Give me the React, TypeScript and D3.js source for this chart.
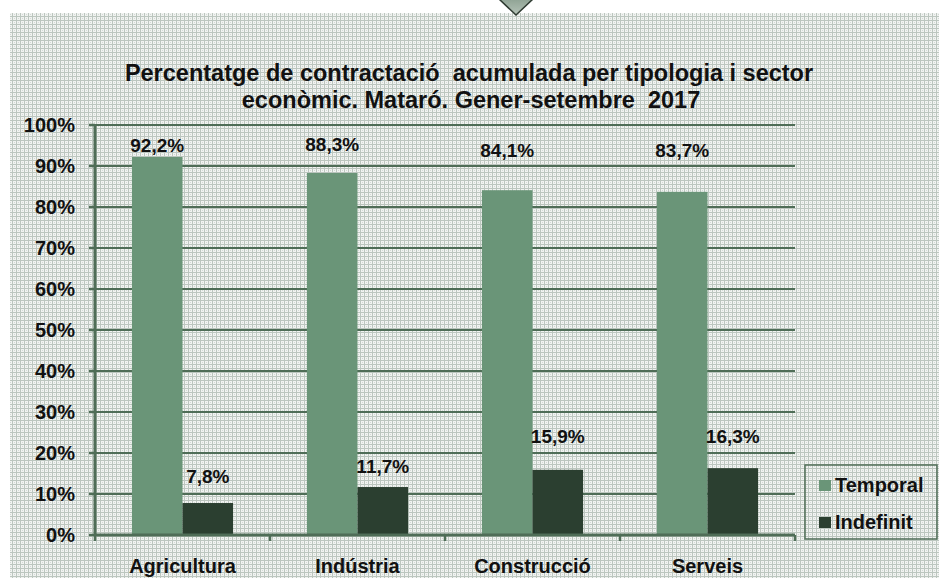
import * as d3 from "d3";

const CATEGORIES = ["Agricultura", "Indústria", "Construcció", "Serveis"];
const SERIES = ["Temporal", "Indefinit"];
const TEMPORAL = [92.2, 88.3, 84.1, 83.7];
const INDEFINIT = [7.8, 11.7, 15.9, 16.3];
const LABELS_TEMPORAL = ["92,2%", "88,3%", "84,1%", "83,7%"];
const LABELS_INDEFINIT = ["7,8%", "11,7%", "15,9%", "16,3%"];
const Y_TICKS = [0, 10, 20, 30, 40, 50, 60, 70, 80, 90, 100];

// where the value labels sit (in % units), they were placed by hand in the original
const LABEL_AT_TEMPORAL = [93.4, 93.7, 92.2, 92.2];
const LABEL_AT_INDEFINIT = [12.7, 15.1, 22.4, 22.4];

const W = 939;
const H = 578;
const PLOT = { left: 95, right: 795, top: 125, bottom: 535 };
const COLORS = { Temporal: "#6a9578", Indefinit: "#2b3f30" };
const AXIS = "#4f6d57";
const FONT = "'Liberation Sans', Arial, sans-serif";

export default function App() {
  const y = d3.scaleLinear().domain([0, 100]).range([PLOT.bottom, PLOT.top]);
  const x0 = d3.scaleBand().domain(CATEGORIES).range([PLOT.left, PLOT.right]);
  const x1 = d3
    .scaleBand()
    .domain(SERIES)
    .range([0, x0.bandwidth()])
    .paddingOuter(0.73);

  const rows = CATEGORIES.map((c, i) => ({
    cat: c,
    values: [
      { key: "Temporal", v: TEMPORAL[i], label: LABELS_TEMPORAL[i], at: LABEL_AT_TEMPORAL[i] },
      { key: "Indefinit", v: INDEFINIT[i], label: LABELS_INDEFINIT[i], at: LABEL_AT_INDEFINIT[i] },
    ],
  }));

  const ticksX = [...CATEGORIES.map((c) => x0(c)!), PLOT.right];

  return (
    <svg
      width={W}
      height={H}
      style={{ position: "absolute", left: 0, top: 0, background: "#fff" }}
      fontFamily={FONT}
    >
      <defs>
        <pattern id="bg" width={4} height={4} patternUnits="userSpaceOnUse">
          <rect width={4} height={4} fill="#f1f3f1" />
          <rect x={0} y={0} width={1} height={4} fill="#bcc6bf" />
          <rect x={0} y={0} width={4} height={1} fill="#bcc6bf" />
          <rect x={2} y={2} width={1} height={1} fill="#d3dad5" />
        </pattern>
        <linearGradient id="chev" x1="0" y1="0" x2="0" y2="1">
          <stop offset="0" stopColor="#8fa394" />
          <stop offset="1" stopColor="#b5c3b8" />
        </linearGradient>
      </defs>

      <rect x={10} y={13} width={W - 10} height={H - 13} fill="url(#bg)" />

      {/* little arrow at the top */}
      <polygon
        points="499,-1 516,15 533,-1"
        fill="url(#chev)"
        stroke="#2e3a31"
        strokeWidth={1.5}
      />

      {/* title */}
      <text
        x={469}
        y={81}
        textAnchor="middle"
        fontSize={23.5}
        fontWeight="bold"
        fill="#111"
        style={{ whiteSpace: "pre" }}
      >
        Percentatge de contractació  acumulada per tipologia i sector
      </text>
      <text
        x={471}
        y={108}
        textAnchor="middle"
        fontSize={23.5}
        fontWeight="bold"
        fill="#111"
        style={{ whiteSpace: "pre" }}
      >
        econòmic. Mataró. Gener-setembre  2017
      </text>

      {/* gridlines + y axis */}
      {Y_TICKS.map((t) => (
        <g key={t}>
          {t > 0 && (
            <line
              x1={PLOT.left}
              x2={PLOT.right}
              y1={y(t)}
              y2={y(t)}
              stroke={AXIS}
              strokeWidth={2}
            />
          )}
          <line x1={PLOT.left - 6} x2={PLOT.left} y1={y(t)} y2={y(t)} stroke={AXIS} strokeWidth={2.5} />
          <text
            x={75}
            y={y(t)}
            dy="0.36em"
            textAnchor="end"
            fontSize={20}
            fontWeight="bold"
            fill="#111"
          >
            {t}%
          </text>
        </g>
      ))}

      {/* bars */}
      {rows.map((r) => (
        <g key={r.cat} transform={`translate(${x0(r.cat)},0)`}>
          {r.values.map((d) => (
            <rect
              key={d.key}
              x={x1(d.key)}
              y={y(d.v)}
              width={x1.bandwidth()}
              height={y(0) - y(d.v)}
              fill={COLORS[d.key as keyof typeof COLORS]}
            />
          ))}
          {r.values.map((d) => (
            <text
              key={d.key}
              x={x1(d.key)! + x1.bandwidth() / 2}
              y={y(d.at)}
              textAnchor="middle"
              fontSize={19}
              fontWeight="bold"
              fill="#111"
            >
              {d.label}
            </text>
          ))}
        </g>
      ))}

      {/* axes */}
      <line x1={PLOT.left} x2={PLOT.left} y1={PLOT.top - 1} y2={PLOT.bottom + 1} stroke={AXIS} strokeWidth={3} />
      <line x1={PLOT.left} x2={PLOT.right} y1={PLOT.bottom} y2={PLOT.bottom} stroke={AXIS} strokeWidth={3} />
      {ticksX.map((tx, i) => (
        <line key={i} x1={tx} x2={tx} y1={PLOT.bottom} y2={PLOT.bottom + 6} stroke={AXIS} strokeWidth={2.5} />
      ))}
      {CATEGORIES.map((c) => (
        <text
          key={c}
          x={x0(c)! + x0.bandwidth() / 2}
          y={573}
          textAnchor="middle"
          fontSize={20}
          fontWeight="bold"
          fill="#111"
        >
          {c}
        </text>
      ))}

      {/* legend */}
      <rect x={805} y={465} width={132} height={74} fill="none" stroke={AXIS} strokeWidth={1.5} />
      {SERIES.map((s, i) => (
        <g key={s} transform={`translate(819,${480 + i * 37})`}>
          <rect width={12} height={11} fill={COLORS[s as keyof typeof COLORS]} />
          <text x={16} y={12} fontSize={20} fontWeight="bold" fill="#111">
            {s}
          </text>
        </g>
      ))}
    </svg>
  );
}
